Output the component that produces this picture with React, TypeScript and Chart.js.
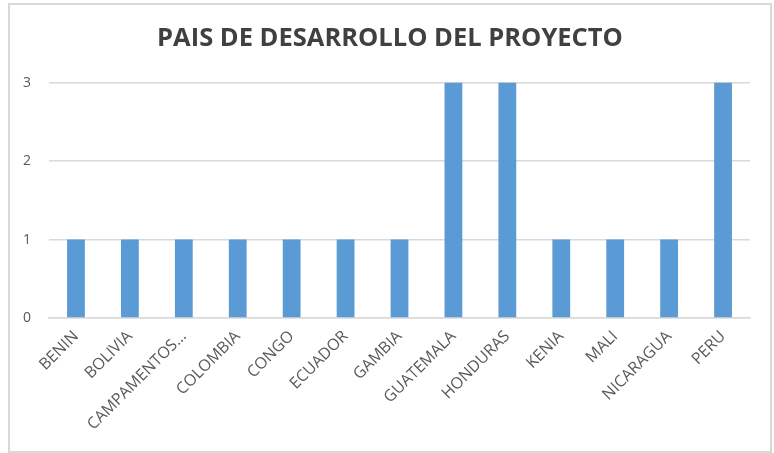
import React, { useEffect, useRef } from "react";
import { Chart, registerables } from "chart.js";

Chart.register(...registerables);

const TITLE = "PAIS DE DESARROLLO DEL PROYECTO";
const categories = [
  "BENIN",
  "BOLIVIA",
  "CAMPAMENTOS…",
  "COLOMBIA",
  "CONGO",
  "ECUADOR",
  "GAMBIA",
  "GUATEMALA",
  "HONDURAS",
  "KENIA",
  "MALI",
  "NICARAGUA",
  "PERU",
];
const values = [1, 1, 1, 1, 1, 1, 1, 3, 3, 1, 1, 1, 3];
const yTicks = [0, 1, 2, 3];

const W = 774;
const H = 453;

const borderPlugin = {
  id: "outerBorder",
  afterLayout(chart: any) {
    const t = chart.titleBlock;
    if (t) {
      t.left = 9;
      t.right = 771;
      t.width = 762;
    }
  },
  beforeDraw(chart: any) {
    const ctx = chart.ctx;
    ctx.save();
    ctx.fillStyle = "#ffffff";
    ctx.fillRect(0, 0, chart.width, chart.height);
    ctx.strokeStyle = "#d9d9d9";
    ctx.lineWidth = 2;
    ctx.strokeRect(9, 4, 762, 448);
    ctx.restore();
  },
};

export default function App() {
  const ref = useRef<HTMLCanvasElement>(null);
  useEffect(() => {
    document.body.style.margin = "0";
    const chart = new Chart(ref.current!, {
      type: "bar",
      data: {
        labels: categories,
        datasets: [
          {
            data: values,
            backgroundColor: "#5b9bd5",
            borderWidth: 0,
            categoryPercentage: 1,
            barPercentage: 0.33,
          },
        ],
      },
      options: {
        animation: false,
        responsive: false,
        devicePixelRatio: 1,
        layout: { padding: { left: 0, right: 24, top: 4, bottom: 0 } },
        plugins: {
          legend: { display: false },
          tooltip: { enabled: false },
          title: {
            display: true,
            text: TITLE,
            color: "#404040",
            font: { family: "'Open Sans'", size: 25.5, weight: "bold" },
            padding: { top: 19, bottom: 29 },
          },
        },
        scales: {
          x: {
            grid: { display: false, drawTicks: false },
            border: { color: "#d9d9d9", width: 1.5 },
            ticks: {
              color: "#595959",
              font: { family: "'Open Sans'", size: 16 },
              maxRotation: 45,
              minRotation: 45,
              autoSkip: false,
              padding: 9,
            },
            afterFit: (s: any) => {
              s.height = 135;
            },
          },
          y: {
            min: 0,
            max: 3,
            afterBuildTicks: (s: any) => {
              s.ticks = yTicks.map((v) => ({ value: v }));
            },
            grid: { color: "#d9d9d9", drawTicks: false, lineWidth: 1.5 },
            border: { display: false },
            ticks: {
              color: "#595959",
              font: { family: "'Open Sans'", size: 14 },
              padding: 18,
            },
            afterFit: (s: any) => {
              s.width = 49;
            },
          },
        },
      },
      plugins: [borderPlugin],
    });
    return () => chart.destroy();
  }, []);
  return (
    <div style={{ position: "relative", width: W, height: H }}>
      <canvas ref={ref} width={W} height={H} style={{ display: "block", width: W, height: H }} />
    </div>
  );
}
